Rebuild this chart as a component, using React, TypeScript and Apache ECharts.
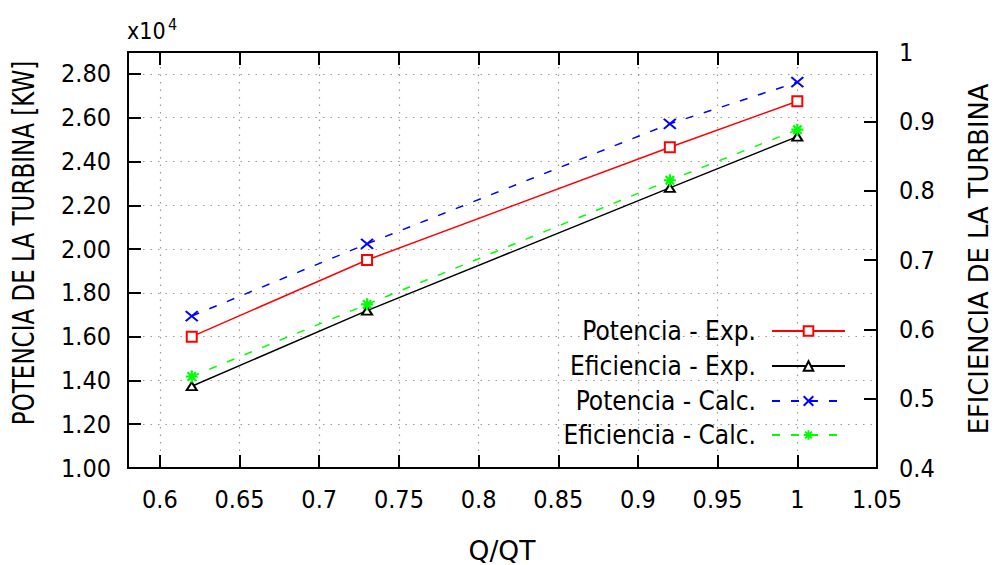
import React, { useEffect, useRef } from "react";
import * as echarts from "echarts";

const qqt = [0.62, 0.73, 0.92, 1.0];
const potenciaExp = [1.6, 1.95, 2.465, 2.675];
const eficienciaExp = [0.518, 0.627, 0.804, 0.878];
const potenciaCalc = [1.694, 2.024, 2.572, 2.762];
const eficienciaCalc = [0.532, 0.636, 0.815, 0.888];

const seriesNames = [
  "Potencia - Exp.",
  "Eficiencia - Exp.",
  "Potencia - Calc.",
  "Eficiencia - Calc.",
];
const legendCenters = [333, 368, 403, 437];

const FONT = "DejaVu Sans Condensed";
const FS = 25;

export default function App() {
  const ref = useRef<HTMLDivElement>(null);
  useEffect(() => {
    if (!ref.current) return;
    const chart = echarts.init(ref.current, null, { renderer: "svg" });
    const pair = (ys: number[]) => qqt.map((x, i) => [x, ys[i]]);
    const xSym = "path://M0,0L10,10M10,0L0,10";
    const starSym = "path://M5,0L5,10M0,5L10,5M1.5,1.5L8.5,8.5M8.5,1.5L1.5,8.5";
    const axisLine = { show: true, lineStyle: { color: "#000", width: 2 } };
    const tickIn = { show: true, inside: true, length: 13, lineStyle: { color: "#000", width: 2 } };
    const grid = { type: [1.5, 6], color: "#9a9a9a", width: 1.2 };
    const label = { color: "#000", fontSize: FS, fontFamily: FONT };

    const option: any = {
      animation: false,
      backgroundColor: "#fff",
      grid: { left: 128, right: 118, top: 52, bottom: 97, containLabel: false },
      legend: seriesNames.map((n, i) => ({
        data: [n],
        orient: "horizontal",
        align: "right",
        right: 149,
        top: legendCenters[i] - 15,
        itemWidth: 73,
        itemHeight: 12,
        padding: 0,
        selectedMode: false,
        textStyle: { color: "#000", fontSize: 26, fontFamily: FONT, padding: [0, 11, 0, 0] },
      })),
      xAxis: [
        {
          type: "value",
          min: 0.58,
          max: 1.05,
          splitNumber: 9,
          minInterval: 0.05,
          maxInterval: 0.05,
          position: "bottom",
          axisLine,
          axisTick: tickIn,
          axisLabel: { ...label, margin: 19, showMinLabel: false },
          splitLine: { show: true, lineStyle: grid },
        },
        {
          type: "value",
          min: 0.58,
          max: 1.05,
          splitNumber: 9,
          minInterval: 0.05,
          maxInterval: 0.05,
          position: "top",
          axisLine,
          axisTick: tickIn,
          axisLabel: { show: false },
          splitLine: { show: false },
        },
      ],
      yAxis: [
        {
          type: "value",
          min: 1.0,
          max: 2.9,
          interval: 0.2,
          position: "left",
          axisLine,
          axisTick: tickIn,
          axisLabel: {
            ...label,
            margin: 17,
            showMaxLabel: false,
            formatter: (v: number) => (v > 2.85 ? "" : v.toFixed(2)),
          },
          splitLine: { show: true, lineStyle: grid },
        },
        {
          type: "value",
          min: 0.4,
          max: 1.0,
          interval: 0.1,
          position: "right",
          axisLine,
          axisTick: tickIn,
          axisLabel: { ...label, margin: 22 },
          splitLine: { show: false },
        },
      ],
      series: [
        {
          name: seriesNames[0],
          type: "line",
          xAxisIndex: 0,
          yAxisIndex: 0,
          data: pair(potenciaExp),
          symbol: "emptyRect",
          symbolSize: 10,
          color: "#ff0000",
          lineStyle: { color: "#ff0000", width: 1.5 },
          itemStyle: { color: "#ff0000", borderColor: "#ff0000", borderWidth: 1.5 },
          emphasis: { disabled: true },
        },
        {
          name: seriesNames[1],
          type: "line",
          xAxisIndex: 0,
          yAxisIndex: 1,
          data: pair(eficienciaExp),
          symbol: "emptyTriangle",
          symbolSize: [10, 8],
          color: "#000000",
          lineStyle: { color: "#000000", width: 1.5 },
          itemStyle: { color: "#000000", borderColor: "#000000", borderWidth: 1.5 },
          emphasis: { disabled: true },
        },
        {
          name: seriesNames[2],
          type: "line",
          xAxisIndex: 0,
          yAxisIndex: 0,
          data: pair(potenciaCalc),
          symbol: xSym,
          symbolSize: [12, 10],
          color: "#0000ff",
          lineStyle: { color: "#0000ff", width: 1.5, type: [8, 11] },
          itemStyle: { color: "#0000ff", borderColor: "#0000ff", borderWidth: 2 },
          emphasis: { disabled: true },
        },
        {
          name: seriesNames[3],
          type: "line",
          xAxisIndex: 0,
          yAxisIndex: 1,
          data: pair(eficienciaCalc),
          symbol: starSym,
          symbolSize: 12,
          color: "#00ff00",
          lineStyle: { color: "#00ff00", width: 1.5, type: [8, 11] },
          itemStyle: { color: "#00ff00", borderColor: "#00ff00", borderWidth: 2.2 },
          emphasis: { disabled: true },
        },
      ],
      graphic: [
        {
          type: "text",
          x: 24,
          y: 243,
          rotation: Math.PI / 2,
          scaleX: 0.853,
          style: {
            text: "POTENCIA DE LA TURBINA [KW]",
            fontSize: 30,
            fontFamily: FONT,
            fill: "#000",
            align: "center",
            verticalAlign: "middle",
          },
        },
        {
          type: "text",
          x: 979,
          y: 259,
          rotation: Math.PI / 2,
          scaleX: 1.06,
          style: {
            text: "EFICIENCIA DE LA TURBINA",
            fontSize: 27,
            fontFamily: FONT,
            fill: "#000",
            align: "center",
            verticalAlign: "middle",
          },
        },
        {
          type: "text",
          x: 502,
          y: 550,
          style: {
            text: "Q/QT",
            fontSize: 26.5,
            fontFamily: "DejaVu Sans",
            fill: "#000",
            align: "center",
            verticalAlign: "middle",
          },
        },
        {
          type: "text",
          x: 127,
          y: 31,
          style: {
            text: "x10",
            fontSize: 23,
            fontFamily: FONT,
            fill: "#000",
            align: "left",
            verticalAlign: "middle",
          },
        },
        {
          type: "text",
          x: 168,
          y: 24,
          style: {
            text: "4",
            fontSize: 16,
            fontFamily: FONT,
            fill: "#000",
            align: "left",
            verticalAlign: "middle",
          },
        },
      ],
    };
    chart.setOption(option);
    return () => chart.dispose();
  }, []);
  return (
    <div
      ref={ref}
      style={{ position: "fixed", left: 0, top: 0, width: 995, height: 565, background: "#fff" }}
    />
  );
}
